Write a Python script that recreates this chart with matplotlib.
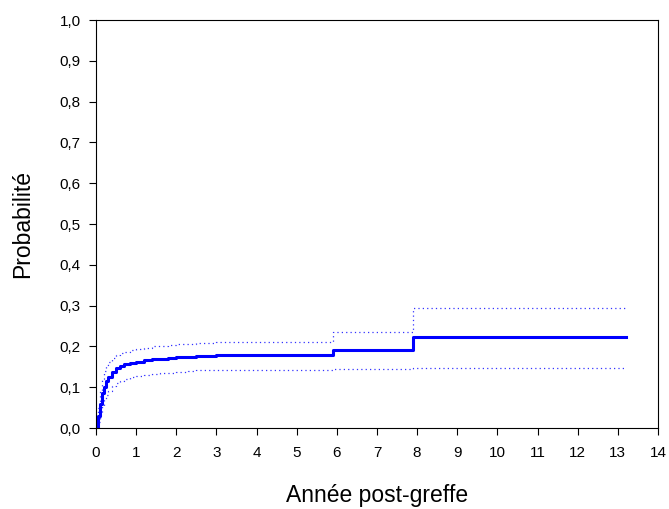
import matplotlib
matplotlib.use("Agg")
from matplotlib import pyplot as plt
from matplotlib.ticker import FuncFormatter

plt.rcParams['font.family'] = ['Liberation Sans', 'DejaVu Sans']

# temps (années) et incidence cumulée avec IC 95%
temps = [0, 0.05, 0.1, 0.15, 0.2, 0.25, 0.3, 0.4, 0.5, 0.6, 0.7, 0.85, 1.0, 1.2,
         1.4, 1.6, 1.8, 2.0, 2.3, 2.5, 3.0, 5.9, 7.9, 13.2]
proba = [0, 0.03, 0.06, 0.085, 0.10, 0.115, 0.125, 0.138, 0.146, 0.152, 0.156, 0.160,
         0.163, 0.166, 0.168, 0.170, 0.171, 0.173, 0.175, 0.177, 0.178, 0.190, 0.222, 0.222]
ic_haut = [0, 0.05, 0.09, 0.12, 0.14, 0.155, 0.163, 0.172, 0.178, 0.183, 0.186, 0.19,
           0.193, 0.197, 0.2, 0.201, 0.203, 0.205, 0.207, 0.209, 0.210, 0.235, 0.295, 0.295]
ic_bas = [0, 0.015, 0.035, 0.055, 0.07, 0.082, 0.09, 0.102, 0.11, 0.115, 0.12, 0.124,
          0.127, 0.13, 0.132, 0.134, 0.136, 0.137, 0.139, 0.141, 0.142, 0.145, 0.148, 0.148]

fig = plt.figure(figsize=(6.69, 5.09), dpi=100)
ax = fig.add_axes([0.1435, 0.1591, 0.840, 0.8016])

ax.plot(temps, ic_haut, drawstyle='steps-post', color='#0000ff', lw=0.9,
        linestyle=(0, (1, 2.5)), alpha=0.8)
ax.plot(temps, ic_bas, drawstyle='steps-post', color='#0000ff', lw=0.9,
        linestyle=(0, (1, 2.5)), alpha=0.8)
ax.plot(temps, proba, drawstyle='steps-post', color='#0000ff', lw=2.2)

ax.set_xlim(0, 14)
ax.set_ylim(0, 1.0)
ax.set_xticks(range(0, 15))
ax.set_yticks([i / 10 for i in range(11)])
ax.yaxis.set_major_formatter(FuncFormatter(lambda v, p: f"{v:.1f}".replace('.', ',')))
ax.tick_params(direction='out', length=5, width=0.8, labelsize=11, colors='black')
ax.tick_params(axis='x', pad=8)
ax.tick_params(axis='y', pad=6)
for s in ax.spines.values():
    s.set_linewidth(0.8)

ax.set_xlabel("Année post-greffe", fontsize=16.5)
ax.set_ylabel("Probabilité", fontsize=16.5)
ax.xaxis.label.set_va('center')
ax.yaxis.label.set_va('center')
ax.xaxis.set_label_coords(0.5, -0.165)
ax.yaxis.set_label_coords(-0.130, 0.5)

fig.savefig("out.png", dpi=100)
